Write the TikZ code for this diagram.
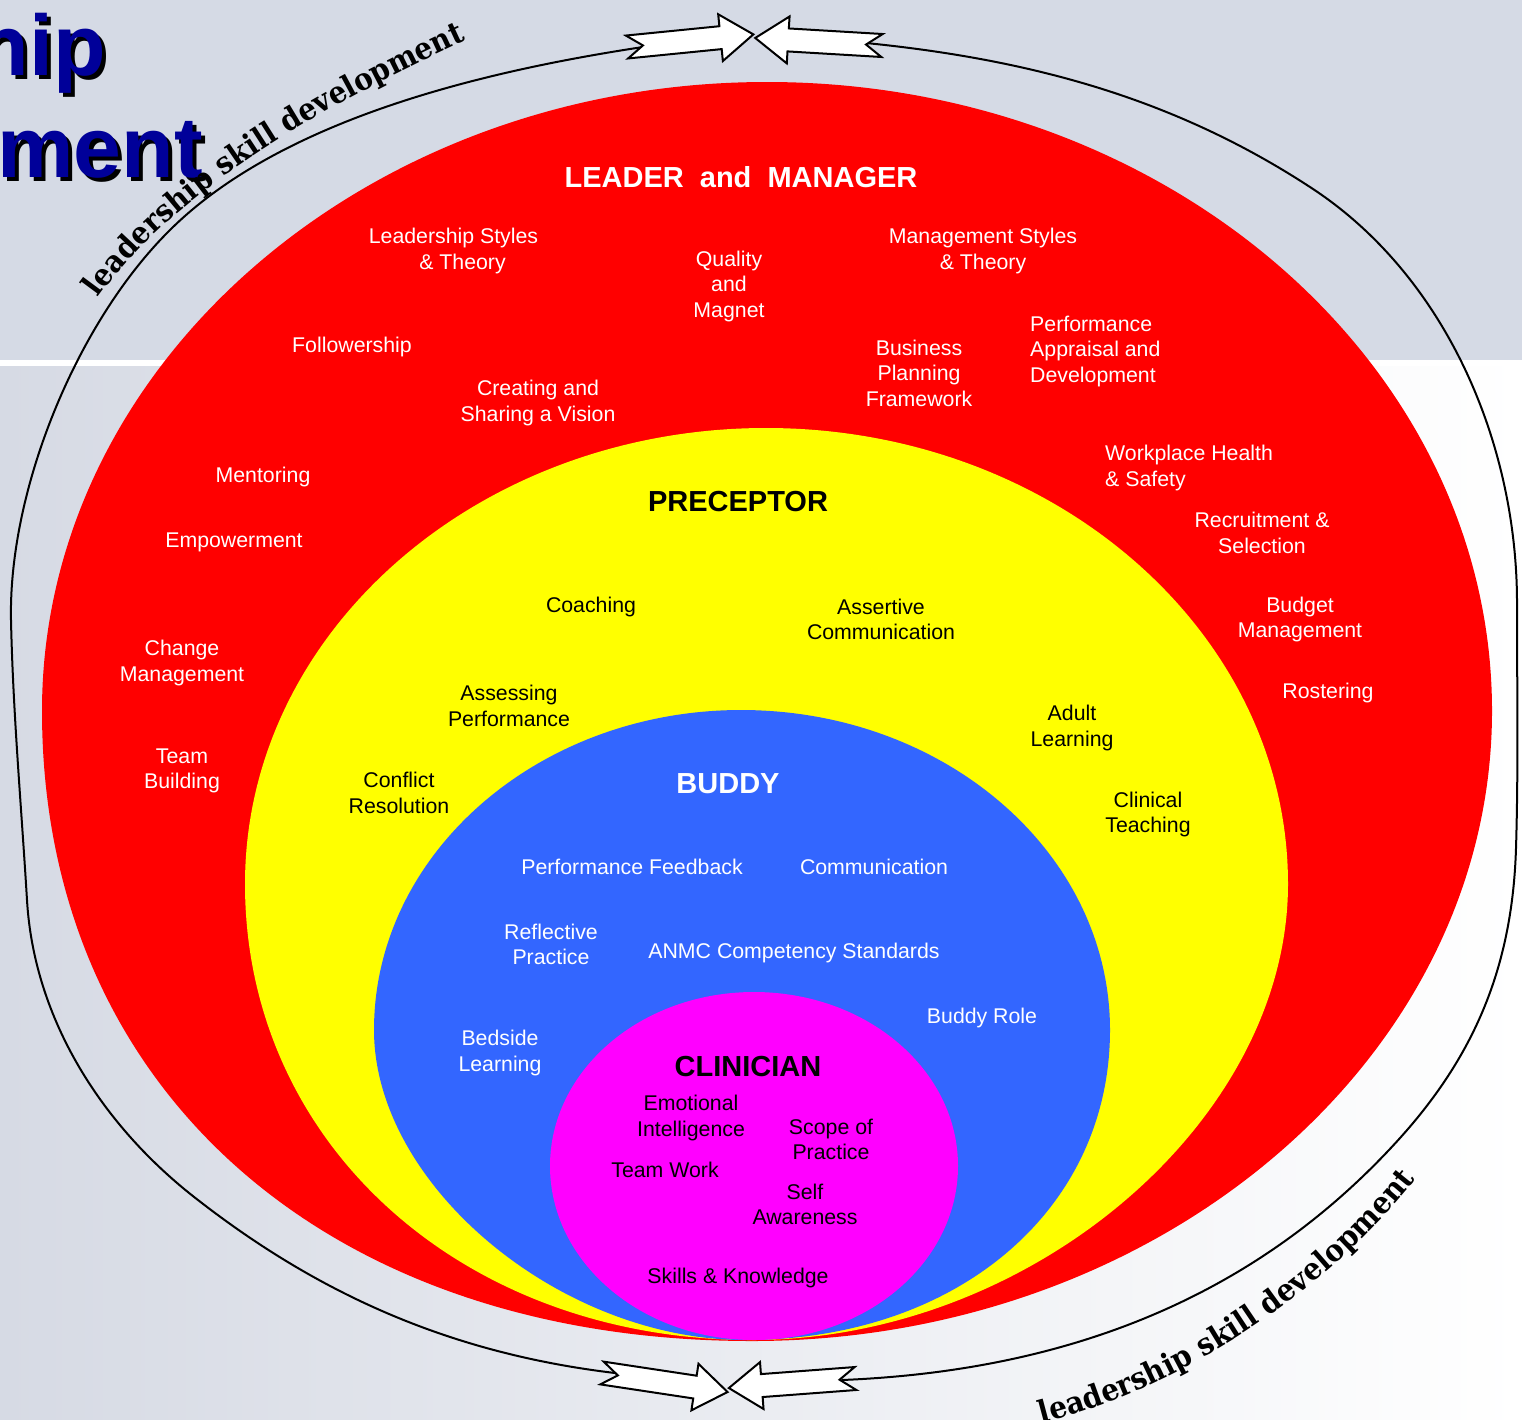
\documentclass[tikz,border=0pt]{standalone}
\usepackage{fontspec}
\setmainfont{Liberation Sans}
\newfontfamily\lsdserif[FakeStretch=0.92]{DejaVu Serif}
\usetikzlibrary{decorations.text}
\definecolor{bandgray}{HTML}{D5DAE5}
\definecolor{lowgray}{HTML}{D6DAE4}
\definecolor{titleblue}{HTML}{000099}
\definecolor{ringred}{HTML}{FF0000}
\definecolor{ringyellow}{HTML}{FFFF00}
\definecolor{ringblue}{HTML}{3366FF}
\definecolor{ringmag}{HTML}{FF00FF}
\newcommand\lblfont{\fontsize{21.3}{25.5}\selectfont}
\newcommand\hdfont{\bfseries\fontsize{29}{34}\selectfont}
\newcommand\ttlfont{\bfseries\fontsize{86}{90}\selectfont}
\newcommand\curvefont{\lsdserif\bfseries\fontsize{30.5}{36}\selectfont}
\tikzset{
 wl/.style={font=\lblfont, text=white, align=center, inner sep=0pt},
 bl/.style={font=\lblfont, text=black, align=center, inner sep=0pt},
 wh/.style={font=\hdfont, text=white, inner sep=0pt},
 bh/.style={font=\hdfont, text=black, inner sep=0pt},
 ttl/.style={font=\ttlfont, text=titleblue, anchor=base east, inner sep=0pt},
 ttlshadow/.style={font=\ttlfont, text=black, anchor=base east, inner sep=0pt},
 loopline/.style={line width=2pt, draw=black},
 arrowbody/.style={fill=white, draw=black, line width=2pt, line join=miter},
 curvetext/.style={decorate, decoration={text along path, text align=left, text={|\curvefont|leadership skill development}}},
 curvetextc/.style={decorate, decoration={text along path, text align=center, text={|\curvefont|leadership skill development}}},
 blockarrow/.pic={\path[arrowbody] (0,11.5) -- (94,11.5) -- (94,23.5) -- (127,0) -- (94,-23.5) -- (94,-11.5) -- (0,-11.5) -- (16,0) -- cycle;}
}
\begin{document}
\begin{tikzpicture}[x=1pt,y=-1pt]
\useasboundingbox (0,0) rectangle (1522,1419);
\clip (0,0) rectangle (1522,1419);
% background
\fill[bandgray] (0,0) rectangle (1522,360);
\fill[white] (0,360) rectangle (1522,366);
\shade[left color=lowgray, right color=white] (0,366) rectangle (1522,1419);
% title
\node[ttlshadow] (t1s) at (110,79) {Leadership};
\node[ttl] (t1) at (106,75) {Leadership};
\node[ttlshadow] (t2s) at (207,181) {Development};
\node[ttl] (t2) at (203,177) {Development};
% outer loop
\coordinate (lpA) at (643,47);
\coordinate (lpB) at (615,1373);
\coordinate (rpA) at (866,43);
\coordinate (rpB) at (842,1380);
\draw[loopline] (lpA) .. controls (485,71) and (279,119) .. (167,233)
  .. controls (76,325) and (8.4,490) .. (11,620)
  .. controls (13,713) and (21.4,807) .. (27,900)
  .. controls (34,1020) and (103,1127) .. (198,1200)
  .. controls (324,1298) and (456,1354) .. (lpB);
\draw[loopline] (rpA) .. controls (1030,59.5) and (1175,98) .. (1313,189)
  .. controls (1446,277) and (1517,443) .. (1517,603)
  .. controls (1517,690) and (1518.4,768) .. (1516,848)
  .. controls (1512.5,963) and (1477,1052.5) .. (1400,1138)
  .. controls (1253,1301) and (1062,1371) .. (rpB);
% text along the loop
\path[curvetext] (98,298) .. controls (165,205) and (290,115) .. (530,12);
\path[curvetextc] (1028,1427) .. controls (1180,1392) and (1332,1290) .. (1424,1168);
% block arrows
\pic[rotate=5.7] (arTL) at (627,47) {blockarrow};
\pic[rotate=176.6] (arTR) at (882,45.5) {blockarrow};
\pic[rotate=-8.6] (arBL) at (602,1373) {blockarrow};
\pic[rotate=184.3] (arBR) at (855.5,1378.5) {blockarrow};
% rings
\fill[ringred] (42,711) .. controls (42,364) and (367,82) .. (767,82) .. controls (1167,82) and (1492,364) .. (1492,711) .. controls (1492,1058) and (1160,1341) .. (752,1341) .. controls (326,1341) and (42,1088) .. (42,711) -- cycle;
\fill[ringyellow] (245,884) .. controls (245,632) and (478,428) .. (766,428) .. controls (1054,428) and (1288,632) .. (1288,884) .. controls (1288,1121) and (1031,1340) .. (752,1340) .. controls (463,1340) and (245,1144) .. (245,884) -- cycle;
\fill[ringblue] (374,1030) .. controls (374,853) and (539,710) .. (741,710) .. controls (945,710) and (1110,853) .. (1110,1030) .. controls (1110,1210) and (957,1340) .. (745,1340) .. controls (560,1340) and (374,1185) .. (374,1030) -- cycle;
\fill[ringmag] (754,1166) ellipse [x radius=204, y radius=174];
% LEADER and MANAGER
\node[wh] (lm) at (741,177) {LEADER~~and~~MANAGER};
\node[wl] (lst) at (453.5,251) {Leadership Styles\\\hspace*{18pt}\& Theory};
\node[wl] (qam) at (729,286) {Quality\\and\\Magnet};
\node[wl] (mst) at (983,251) {Management Styles\\\& Theory};
\node[wl] (fol) at (352,347) {Followership};
\node[wl] (bpf) at (919,373) {Business\\Planning\\Framework};
\node[wl, anchor=west, align=left] (pad) at (1030,351) {Performance\\Appraisal and\\Development};
\node[wl] (csv) at (538,403) {Creating and\\Sharing a Vision};
\node[wl, anchor=west, align=left] (whs) at (1105,468) {Workplace Health\\\& Safety};
\node[wl] (men) at (263,477) {Mentoring};
\node[wl] (res) at (1262,533) {Recruitment \&\\Selection};
\node[wl] (emp) at (234,542) {Empowerment};
\node[wl] (bud) at (1300,619.5) {Budget\\Management};
\node[wl] (chm) at (182,663) {Change\\Management};
\node[wl] (ros) at (1328,693) {Rostering};
\node[wl] (tmb) at (182,771) {Team\\Building};
% PRECEPTOR
\node[bh] (pre) at (738,502) {PRECEPTOR};
\node[bl] (coa) at (591,607) {Coaching};
\node[bl] (asc) at (881,619.5) {Assertive\\Communication};
\node[bl] (asp) at (509,706) {Assessing\\Performance};
\node[bl] (adl) at (1072,728) {Adult\\Learning};
\node[bl] (cor) at (399,793) {Conflict\\Resolution};
\node[bl] (clt) at (1148,814.5) {Clinical\\Teaching};
% BUDDY
\node[wh] (bdy) at (728,784) {BUDDY};
\node[wl] (pfb) at (632,867) {Performance Feedback};
\node[wl] (com) at (874,867) {Communication};
\node[wl] (rfp) at (551,944.5) {Reflective\\Practice};
\node[wl] (anmc) at (794,953) {ANMC Competency Standards};
\node[wl] (bro) at (982,1018) {Buddy Role};
\node[wl] (bsl) at (500,1053) {Bedside\\Learning};
% CLINICIAN
\node[bh] (cli) at (748,1066) {CLINICIAN};
\node[bl] (emi) at (691,1118) {Emotional\\Intelligence};
\node[bl] (sop) at (831,1139.5) {Scope of\\Practice};
\node[bl] (tmw) at (665,1170) {Team Work};
\node[bl] (saw) at (805,1204.5) {Self\\Awareness};
\node[bl] (skk) at (738,1278) {Skills \& Knowledge};
\end{tikzpicture}
\end{document}
